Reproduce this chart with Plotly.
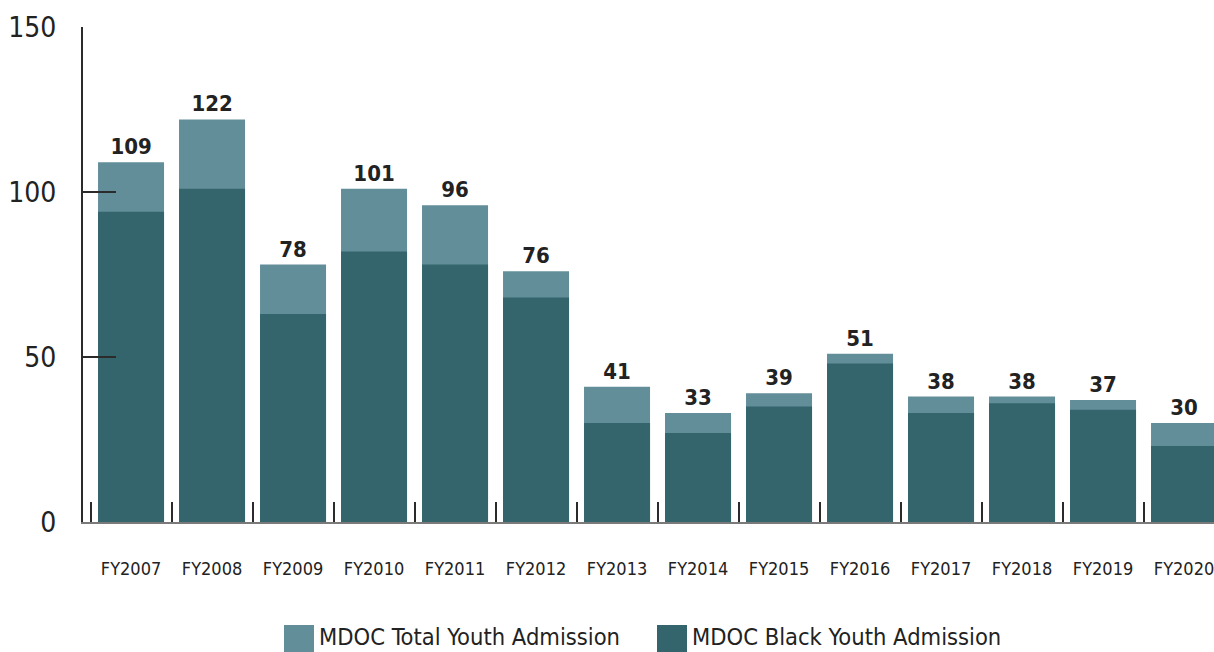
import plotly.graph_objects as go

years = ["FY2007", "FY2008", "FY2009", "FY2010", "FY2011", "FY2012", "FY2013",
         "FY2014", "FY2015", "FY2016", "FY2017", "FY2018", "FY2019", "FY2020"]
total_youth = [109, 122, 78, 101, 96, 76, 41, 33, 39, 51, 38, 38, 37, 30]
black_youth = [94, 101, 63, 82, 78, 68, 30, 27, 35, 48, 33, 36, 34, 23]
y_ticks = [0, 50, 100, 150]

LIGHT = "#628e9a"
DARK = "#34656c"
INK = "#222222"
FONT = "DejaVu Sans Condensed, Liberation Sans Narrow, DejaVu Sans, sans-serif"

fig = go.Figure()
fig.add_trace(go.Bar(
    x=years, y=total_youth, name="MDOC Total Youth Admission",
    marker=dict(color=LIGHT, line=dict(width=0)), width=0.815,
    text=total_youth, textposition="outside", cliponaxis=False,
    textfont=dict(family=FONT, size=22, color=INK, weight="bold"),
    showlegend=False,
))
fig.add_trace(go.Bar(
    x=years, y=black_youth, name="MDOC Black Youth Admission",
    marker=dict(color=DARK, line=dict(width=0)), width=0.815,
    showlegend=False,
))

# manual legend (large swatches like the reference)
W, H = 1131.0, 495.0
def px_x(p):
    return (p - 83) / W
def px_y(p):
    return (522 - p) / H

legend_items = [("MDOC Total Youth Admission", LIGHT, 284),
                ("MDOC Black Youth Admission", DARK, 657)]
shapes = []
annotations = []
for label, col, x0 in legend_items:
    shapes.append(dict(type="rect", xref="paper", yref="paper",
                       x0=px_x(x0), x1=px_x(x0 + 30), y0=px_y(625), y1=px_y(652),
                       fillcolor=col, line=dict(width=0)))
    annotations.append(dict(xref="paper", yref="paper", x=px_x(x0 + 33), y=px_y(637),
                            xanchor="left", yanchor="middle", text=label, showarrow=False,
                            font=dict(family=FONT, size=23.5, color=INK)))

fig.update_layout(
    width=1214, height=652,
    margin=dict(l=83, r=0, t=27, b=130),
    paper_bgcolor="white", plot_bgcolor="white",
    barmode="overlay", bargap=0.185,
    shapes=shapes, annotations=annotations,
    font=dict(family=FONT, color=INK),
)
fig.update_xaxes(
    type="category", range=[-0.593, 13.37],
    showline=True, linecolor="#7a7a7a", linewidth=1.5,
    ticks="inside", tickson="boundaries", ticklen=20, tickwidth=2, tickcolor="#2b2b2b",
    tickfont=dict(family=FONT, size=18, color=INK),
    ticklabelstandoff=30, showgrid=False, zeroline=False,
)
fig.update_yaxes(
    range=[0, 150], tickvals=y_ticks,
    showline=True, linecolor="#2b2b2b", linewidth=2,
    ticks="inside", ticklen=33, tickwidth=2, tickcolor="#2b2b2b",
    tickfont=dict(family=FONT, size=28, color=INK),
    ticklabelstandoff=19, showgrid=False, zeroline=False,
)

fig.write_html("out.html", config={"displayModeBar": False},
               post_script="document.body.style.margin='0';")
